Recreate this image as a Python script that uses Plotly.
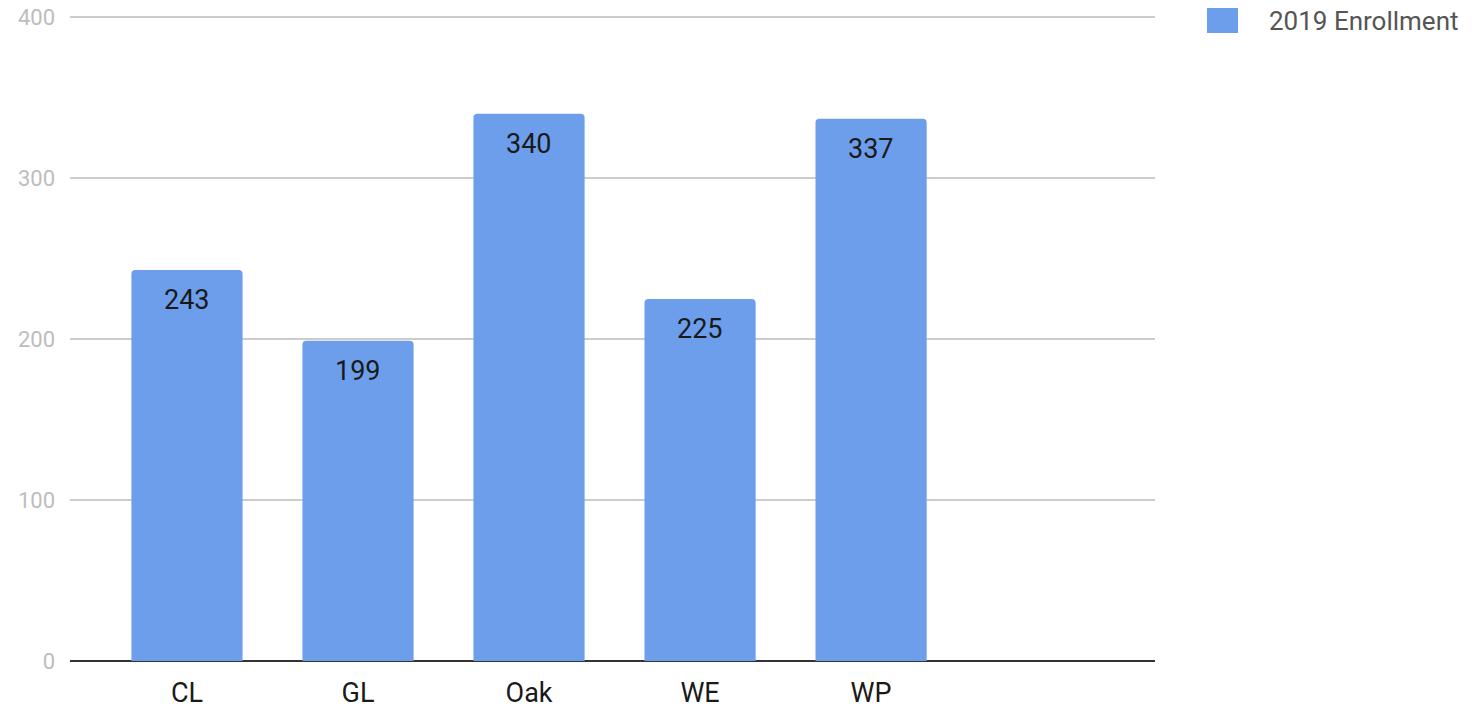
import plotly.graph_objects as go

categories = ["CL", "GL", "Oak", "WE", "WP"]
enrollment = [243, 199, 340, 225, 337]
series_name = "2019 Enrollment"
y_ticks = [0, 100, 200, 300, 400]

BAR_COLOR = "#6d9eeb"
FONT = "Roboto"

fig = go.Figure()
fig.add_trace(go.Bar(
    x=categories, y=enrollment, name=series_name,
    marker=dict(color=BAR_COLOR, cornerradius=4, line=dict(width=0)),
    showlegend=False,
))
for c, v in zip(categories, enrollment):
    fig.add_annotation(
        x=c, y=v, text=str(v), showarrow=False, yanchor="top", yshift=-12,
        font=dict(family=FONT, size=27, color="#1a1a1a"),
    )

# legend (swatch + label) drawn in paper coordinates
fig.add_shape(
    type="rect", xref="paper", yref="paper",
    x0=1.0479, x1=1.0765, y0=0.9736, y1=1.017,
    fillcolor=BAR_COLOR, line=dict(width=0), layer="above",
)
fig.add_annotation(
    xref="paper", yref="paper", x=1.1032, y=0.9922,
    xanchor="left", yanchor="middle", showarrow=False,
    text=series_name, font=dict(family=FONT, size=26, color="#555555"),
)

# the page body adds an 8px offset, so the figure is 8px smaller
fig.update_layout(
    width=1471, height=700,
    margin=dict(l=62, r=324, t=8, b=47, autoexpand=False),
    paper_bgcolor="white", plot_bgcolor="white",
    bargap=0.35,
    font=dict(family=FONT),
    showlegend=False,
)
fig.update_xaxes(
    type="category", range=[-0.684, 5.66],
    showgrid=False, zeroline=False, showline=False, ticks="",
    tickfont=dict(family=FONT, size=27, color="#1a1a1a"),
    ticklabelstandoff=13,
)
fig.update_yaxes(
    range=[0, 400.8], tickvals=y_ticks,
    showgrid=True, gridcolor="#cccccc", gridwidth=1.5,
    zeroline=True, zerolinecolor="#333333", zerolinewidth=2,
    showline=False, ticks="",
    tickfont=dict(family=FONT, size=22, color="#bdbdbd"),
    ticklabelstandoff=14, ticklabeloverflow="allow",
)

fig.write_html("out.html")
